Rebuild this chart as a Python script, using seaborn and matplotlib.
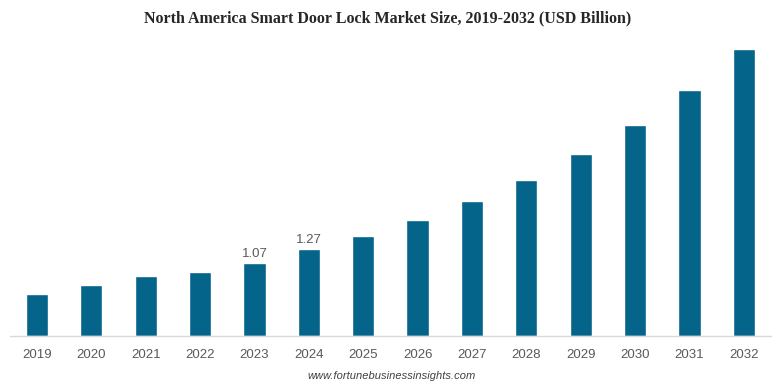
import pandas as pd
import seaborn as sns
import matplotlib.pyplot as plt

years = ["2019", "2020", "2021", "2022", "2023", "2024", "2025",
         "2026", "2027", "2028", "2029", "2030", "2031", "2032"]
market_size = [0.62, 0.745, 0.87, 0.94, 1.07, 1.27, 1.46,
               1.69, 1.97, 2.28, 2.65, 3.08, 3.59, 4.19]
shown_labels = ["", "", "", "", "1.07", "1.27", "",
                "", "", "", "", "", "", ""]

df = pd.DataFrame({"year": years, "size": market_size})

sns.set_style("white")
plt.rcParams["font.family"] = ["Liberation Sans", "DejaVu Sans"]

fig = plt.figure(figsize=(7.76, 3.88), dpi=100)
ax = fig.add_axes([0.0126, 0.134, 0.981, 0.763])

sns.barplot(data=df, x="year", y="size", color="#05648a", saturation=1,
            width=0.41, ax=ax)

ax.bar_label(ax.containers[0], labels=shown_labels, padding=2,
             fontsize=9.5, color="#595959")

ax.set_xlim(-0.5, len(years) - 0.5)
ax.set_ylim(0, 4.32)
ax.set_xlabel("")
ax.set_ylabel("")
ax.set_yticks([])
ax.tick_params(axis="x", length=0, labelsize=9.5, colors="#595959", pad=9)

for s in ["top", "left", "right"]:
    ax.spines[s].set_visible(False)
ax.spines["bottom"].set_color("#d9d9d9")
ax.spines["bottom"].set_linewidth(1)

fig.text(0.5, 0.953, "North America Smart Door Lock Market Size, 2019-2032 (USD Billion)",
         ha="center", va="center", fontsize=11.5, fontweight="bold",
         family="Liberation Serif", color="#262626")
fig.text(0.505, 0.03, "www.fortunebusinessinsights.com", ha="center", va="center",
         fontsize=8, style="italic", color="#404040")

plt.savefig("out.png", dpi=100)
